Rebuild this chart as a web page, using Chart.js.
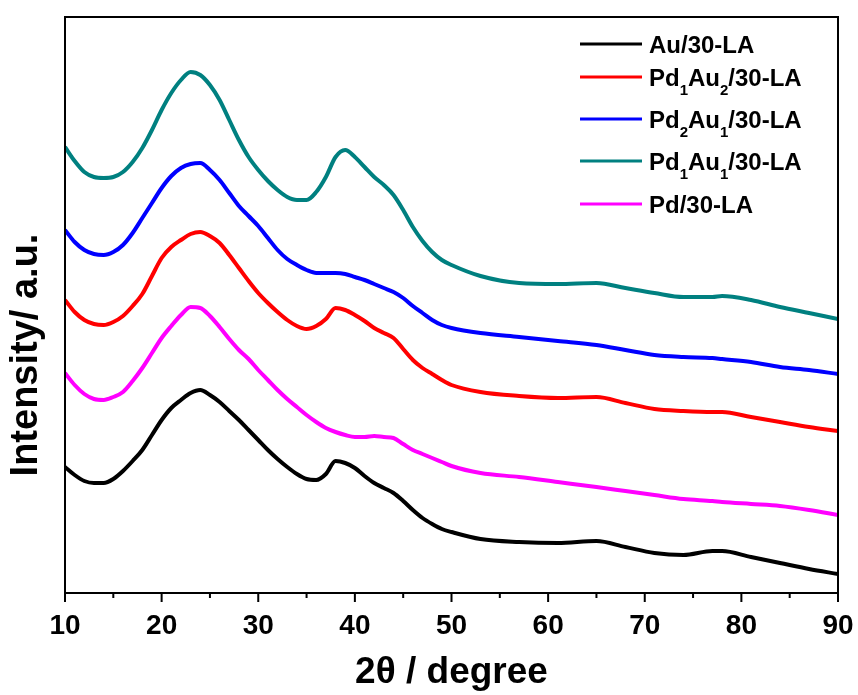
<!DOCTYPE html>
<html>
<head>
<meta charset="utf-8">
<script src="https://cdn.jsdelivr.net/npm/chart.js@4.4.1/dist/chart.umd.min.js"></script>
<style>
  html, body { margin: 0; padding: 0; background: #fff; }
  #wrap { width: 858px; height: 695px; position: relative; }
</style>
</head>
<body>
<div id="wrap"><canvas id="c" width="858" height="695"></canvas></div>
<script>
// 2θ positions (degree)
const theta = [10,11,12,13,14,15,16,17,18,19,20,21,22,23,24,25,26,27,28,29,30,31,32,33,34,35,36,37,38,39,40,41,42,43,44,45,46,47,48,49,50,53,57,61,65,68,71,74,77,78,81,84,87,90];
// Intensities (a.u., stacked as in the figure)
const auLA     = [126,118,112,110,110,114,122,132,143,158,173,185,193,200,203,198,191,182,173,163,153,143,134,126,119,114,113,119,132,130,125,117,110,105,100,92,83,75,69,64,61,54,51,50,52,46,40,38,42,42,36,30,24,19];
const pd1au2LA = [293,281,273,269,268,271,277,287,299,317,335,346,353,359,361,357,350,338,325,312,300,290,281,273,267,264,267,274,285,283,278,272,265,260,255,244,233,225,219,213,208,201,197,195,196,190,184,182,181,181,176,171,166,162];
const pd2au1LA = [363,351,343,339,338,341,348,360,375,390,405,417,425,429,430,423,413,400,387,377,367,355,343,334,328,323,320,320,320,319,316,313,309,305,301,295,287,280,273,268,265,260,256,252,248,243,238,236,235,234,231,226,223,219];
const pd1au1LA = [446,432,421,416,415,416,421,431,445,463,483,500,513,521,518,508,493,473,453,436,423,412,403,396,393,393,401,416,436,443,436,426,416,408,398,383,366,352,341,333,328,317,310,309,310,305,300,296,296,297,293,286,280,274];
const pdLA     = [220,208,199,194,193,196,201,212,225,240,255,267,278,286,285,277,266,254,243,234,223,213,203,194,186,178,171,165,161,158,156,156,157,156,155,149,143,139,135,131,127,120,116,111,106,102,98,94,92,91,89,87,83,78];
const xTicks = [10,20,30,40,50,60,70,80,90];
const xMinorTicks = [15,25,35,45,55,65,75,85];

// legend entries: [text, isSubscript] parts
const legendItems = [
  { color: '#000000', parts: [['Au/30-LA', false]] },
  { color: '#ff0000', parts: [['Pd', false], ['1', true], ['Au', false], ['2', true], ['/30-LA', false]] },
  { color: '#0000ff', parts: [['Pd', false], ['2', true], ['Au', false], ['1', true], ['/30-LA', false]] },
  { color: '#008080', parts: [['Pd', false], ['1', true], ['Au', false], ['1', true], ['/30-LA', false]] },
  { color: '#ff00ff', parts: [['Pd/30-LA', false]] }
];
const legendRowsY = [44, 77, 119, 161, 204];

const FONT = "'Liberation Sans', Arial, Helvetica, sans-serif";

function series(vals) { return theta.map((t, i) => ({ x: t, y: vals[i] })); }

const dsBase = { borderWidth: 4, pointRadius: 0, fill: false, cubicInterpolationMode: 'monotone' };

const framePlugin = {
  id: 'frame',
  afterDraw(chart) {
    const ctx = chart.ctx;
    const a = chart.chartArea;
    const xs = chart.scales.x;
    ctx.save();
    ctx.strokeStyle = '#000';
    ctx.lineWidth = 2;
    ctx.strokeRect(a.left, a.top, a.right - a.left, a.bottom - a.top);
    // ticks
    ctx.beginPath();
    xTicks.forEach(v => { const p = xs.getPixelForValue(v); ctx.moveTo(p, a.bottom); ctx.lineTo(p, a.bottom + 9); });
    xMinorTicks.forEach(v => { const p = xs.getPixelForValue(v); ctx.moveTo(p, a.bottom); ctx.lineTo(p, a.bottom + 5); });
    ctx.stroke();
    // y title
    ctx.save();
    ctx.translate(27, 355);
    ctx.rotate(-Math.PI / 2);
    ctx.font = 'bold 38px ' + FONT;
    ctx.fillStyle = '#000';
    ctx.textAlign = 'center';
    ctx.textBaseline = 'middle';
    ctx.fillText('Intensity/ a.u.', 0, 0);
    ctx.restore();
    // legend
    legendItems.forEach((it, i) => {
      const cy = legendRowsY[i];
      ctx.strokeStyle = it.color;
      ctx.lineWidth = 3;
      ctx.beginPath();
      ctx.moveTo(580, cy);
      ctx.lineTo(642, cy);
      ctx.stroke();
      let x = 649;
      const base = cy + 9;
      ctx.fillStyle = '#000';
      ctx.textAlign = 'left';
      ctx.textBaseline = 'alphabetic';
      it.parts.forEach(([t, sub]) => {
        ctx.font = sub ? 'bold 15px ' + FONT : 'bold 24px ' + FONT;
        ctx.fillText(t, x, sub ? base + 9 : base);
        x += ctx.measureText(t).width;
      });
    });
    ctx.restore();
  }
};

new Chart(document.getElementById('c'), {
  type: 'line',
  data: {
    datasets: [
      Object.assign({ label: 'Au/30-LA', data: series(auLA), borderColor: '#000000' }, dsBase),
      Object.assign({ label: 'Pd1Au2/30-LA', data: series(pd1au2LA), borderColor: '#ff0000' }, dsBase),
      Object.assign({ label: 'Pd2Au1/30-LA', data: series(pd2au1LA), borderColor: '#0000ff' }, dsBase),
      Object.assign({ label: 'Pd1Au1/30-LA', data: series(pd1au1LA), borderColor: '#008080' }, dsBase),
      Object.assign({ label: 'Pd/30-LA', data: series(pdLA), borderColor: '#ff00ff' }, dsBase)
    ]
  },
  options: {
    responsive: false,
    animation: false,
    devicePixelRatio: 1,
    layout: { padding: { left: 0, right: 20, top: 17, bottom: 0 } },
    plugins: { legend: { display: false }, tooltip: { enabled: false } },
    scales: {
      x: {
        type: 'linear', min: 10, max: 90,
        afterBuildTicks(scale) { scale.ticks = xTicks.map(v => ({ value: v })); },
        afterFit(scale) { scale.height = 102; scale.paddingLeft = 0; scale.paddingRight = 0; },
        grid: { display: false, drawTicks: false },
        border: { display: false },
        ticks: { padding: 16, color: '#000', font: { family: FONT, size: 28, weight: 'bold' }, maxRotation: 0, autoSkip: false },
        title: { display: true, text: '2θ / degree', color: '#000', font: { family: FONT, size: 37, weight: 'bold' }, padding: { top: 0, bottom: 0 } }
      },
      y: {
        type: 'linear', min: 0, max: 576,
        afterFit(scale) { scale.width = 65; scale.paddingTop = 0; scale.paddingBottom = 0; },
        grid: { display: false, drawTicks: false },
        border: { display: false },
        ticks: { display: false },
        title: { display: false }
      }
    }
  },
  plugins: [framePlugin]
});
</script>
</body>
</html>
